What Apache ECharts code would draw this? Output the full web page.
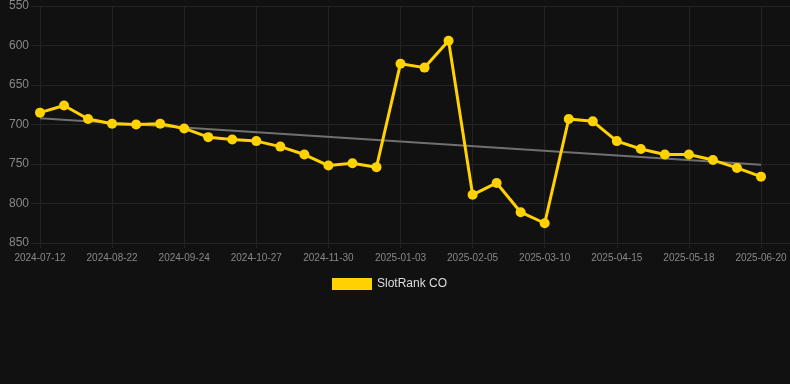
<!DOCTYPE html>
<html><head><meta charset="utf-8">
<script src="https://cdn.jsdelivr.net/npm/echarts@6/dist/echarts.min.js"></script>
<style>html,body{margin:0;padding:0;background:#111111;}#c{width:790px;height:384px;}</style>
</head><body><div id="c"></div>
<script>
const categories = ['2024-07-12','2024-07-26','2024-08-08','2024-08-22','2024-09-02','2024-09-13','2024-09-24','2024-10-05','2024-10-16','2024-10-27','2024-11-07','2024-11-18','2024-11-30','2024-12-11','2024-12-22','2025-01-03','2025-01-14','2025-01-25','2025-02-05','2025-02-16','2025-02-27','2025-03-10','2025-03-22','2025-04-03','2025-04-15','2025-04-26','2025-05-07','2025-05-18','2025-05-29','2025-06-09','2025-06-20'];
const rankValues = [685,676,693,699,700,699,705,716,719,721,728,738,752,749,754,623,628,594,789,774,811,825,693,696,721,731,738,738,745,755,766];
const trendStart = ['2024-07-12', 692];
const trendEnd = ['2025-06-20', 751];
const yTicks = {min:550, max:850, interval:50};
const seriesName = 'SlotRank CO';

const chart = echarts.init(document.getElementById('c'), null, {renderer:'canvas'});
chart.setOption({
  backgroundColor:'#111111',
  animation:false,
  grid:[
    {left:31, right:0, top:6, bottom:141},
    {left:40, right:29, top:6, bottom:141}
  ],
  xAxis:[
    {gridIndex:0, type:'value', min:0, max:1, show:false},
    {gridIndex:1, type:'category', data:categories, boundaryGap:false,
     axisLine:{show:false},
     axisTick:{show:true, interval:2, length:5, lineStyle:{color:'#242424'}},
     axisLabel:{interval:2, color:'#888', fontSize:10, margin:10, fontFamily:'Liberation Sans, Arial, sans-serif'},
     splitLine:{show:true, interval:2, lineStyle:{color:'#242424', width:1}}}
  ],
  yAxis:[
    {gridIndex:0, type:'value', inverse:true, min:yTicks.min, max:yTicks.max, interval:yTicks.interval,
     axisLabel:{show:false}, axisLine:{show:false}, axisTick:{show:false},
     splitLine:{show:true, lineStyle:{color:'#242424', width:1}}},
    {gridIndex:1, type:'value', inverse:true, min:yTicks.min, max:yTicks.max, interval:yTicks.interval,
     axisLabel:{color:'#888', fontSize:12, margin:11, fontFamily:'Liberation Sans, Arial, sans-serif'},
     axisLine:{show:false}, axisTick:{show:false}, splitLine:{show:false}}
  ],
  legend:{
    data:[seriesName], top:273, left:327, itemWidth:40, itemHeight:12, itemGap:10,
    icon:'rect',
    textStyle:{color:'#dddddd', fontSize:12, fontFamily:'Liberation Sans, Arial, sans-serif'}
  },
  series:[
    {name:'trend', type:'line', xAxisIndex:1, yAxisIndex:1, data:[trendStart, trendEnd],
     symbol:'none', lineStyle:{color:'#707070', width:2}, z:1, silent:true},
    {name:seriesName, type:'line', xAxisIndex:1, yAxisIndex:1, data:rankValues,
     symbol:'circle', symbolSize:10, showAllSymbol:true,
     itemStyle:{color:'#FFD200'}, lineStyle:{color:'#FFD200', width:3}, z:3}
  ]
});
</script>
</body></html>
